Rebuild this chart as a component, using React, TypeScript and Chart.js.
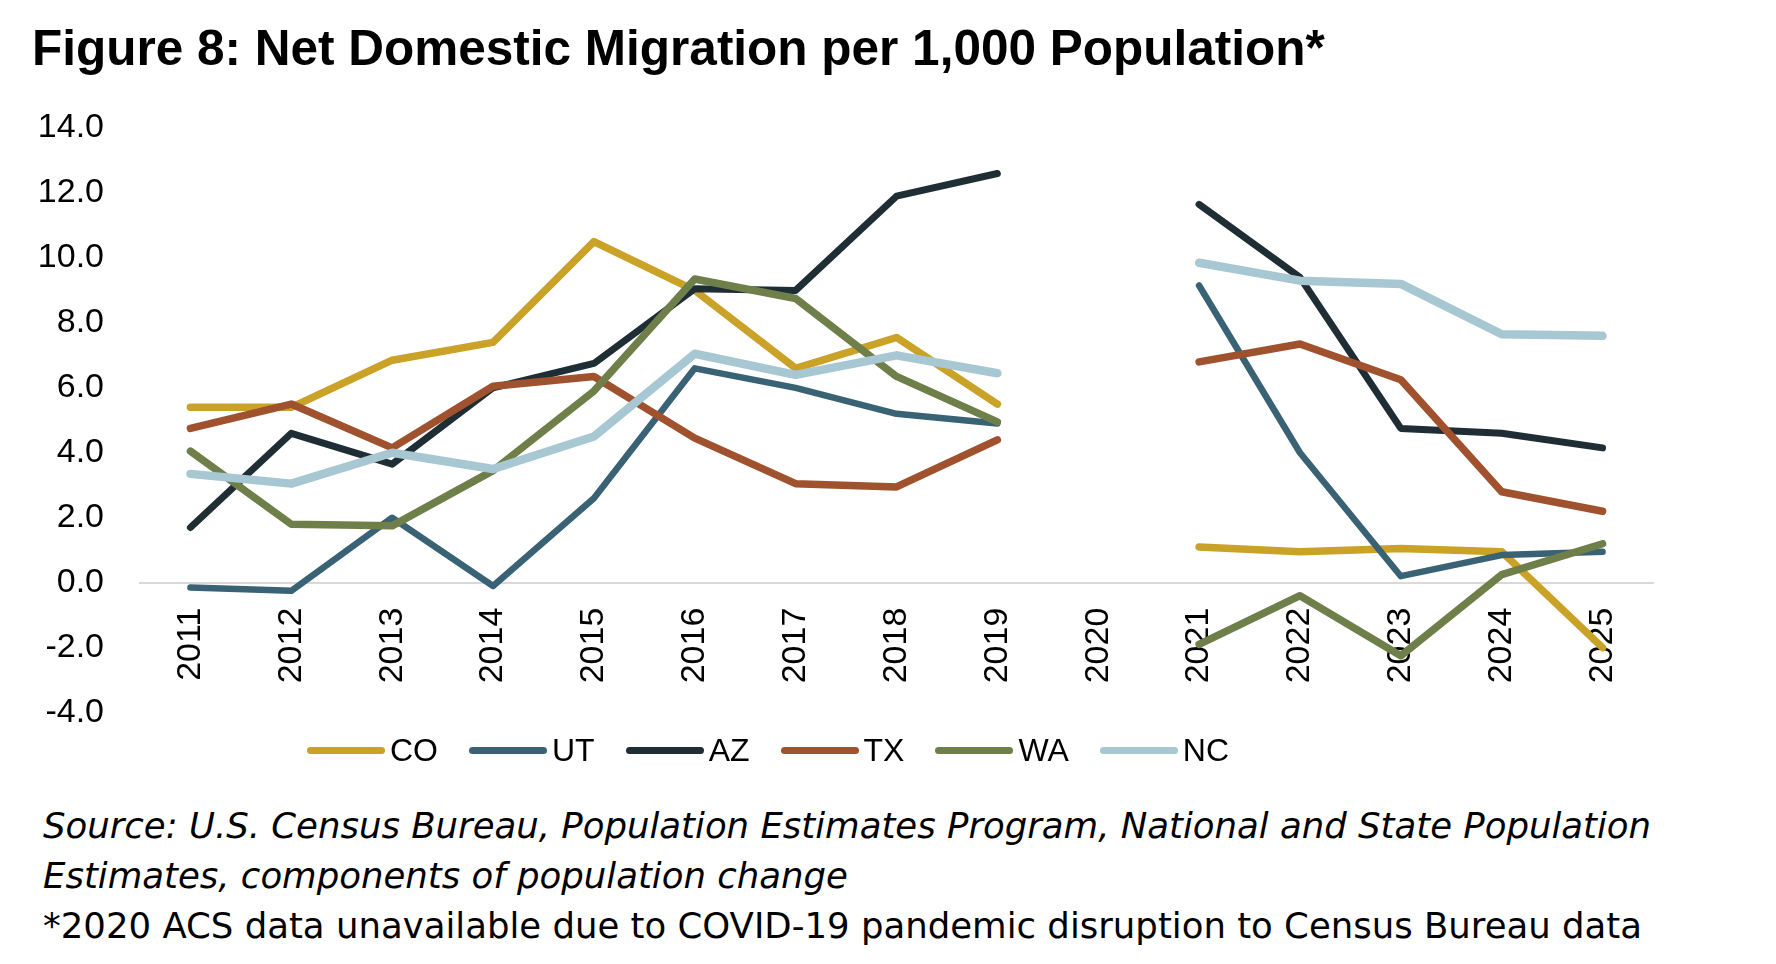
import { useEffect, useRef } from 'react';
import { Chart, registerables } from 'chart.js';

Chart.register(...registerables);

// 2020 has no data (gap in every series)
const YEARS = ['2011', '2012', '2013', '2014', '2015', '2016', '2017', '2018', '2019', '2020', '2021', '2022', '2023', '2024', '2025'];

const CO = [5.4, 5.4, 6.85, 7.4, 10.5, 9.0, 6.6, 7.55, 5.5, null, 1.1, 0.95, 1.05, 0.95, -2.0];
const UT = [-0.15, -0.25, 2.0, -0.1, 2.6, 6.6, 6.0, 5.2, 4.9, null, 9.15, 4.0, 0.2, 0.85, 0.95];
const AZ = [1.7, 4.6, 3.65, 6.0, 6.75, 9.05, 9.0, 11.9, 12.6, null, 11.65, 9.4, 4.75, 4.6, 4.15];
const TX = [4.75, 5.5, 4.15, 6.05, 6.35, 4.45, 3.05, 2.95, 4.4, null, 6.8, 7.35, 6.25, 2.8, 2.2];
const WA = [4.05, 1.8, 1.75, 3.45, 5.9, 9.35, 8.75, 6.35, 4.95, null, -1.9, -0.4, -2.25, 0.25, 1.2];
const NC = [3.35, 3.05, 4.0, 3.5, 4.5, 7.05, 6.4, 7.0, 6.45, null, 9.85, 9.3, 9.2, 7.65, 7.6];

const Y_MIN = -4;
const Y_MAX = 14;
const Y_STEP = 2;

const SERIES = [
    { label: 'CO', data: CO, color: '#C9A227', width: 7.5 },
    { label: 'UT', data: UT, color: '#3A6275', width: 6.5 },
    { label: 'AZ', data: AZ, color: '#1F2E34', width: 7 },
    { label: 'TX', data: TX, color: '#A0512D', width: 7.5 },
    { label: 'WA', data: WA, color: '#6E7F4A', width: 7.5 },
    { label: 'NC', data: NC, color: '#A7C7D3', width: 8.5 },
];

const TITLE = 'Figure 8: Net Domestic Migration per 1,000 Population*';
const SOURCE_1 = 'Source: U.S. Census Bureau, Population Estimates Program, National and State Population';
const SOURCE_2 = 'Estimates, components of population change';
const NOTE = '*2020 ACS data unavailable due to COVID-19 pandemic disruption to Census Bureau data';

const SANS = '"Liberation Sans", Arial, sans-serif';

export default function App() {
    const chartRef = useRef<HTMLCanvasElement>(null);
    const chartInstanceRef = useRef<Chart | null>(null);

    useEffect(() => {
        document.body.style.margin = '0';
        if (!chartRef.current) return;
        const ctx = chartRef.current.getContext('2d');
        if (!ctx) return;

        Chart.defaults.font.family = SANS;

        chartInstanceRef.current = new Chart(ctx, {
            type: 'line',
            data: {
                labels: YEARS,
                datasets: SERIES.map((s, i) => ({
                    label: s.label,
                    data: s.data,
                    borderColor: s.color,
                    backgroundColor: s.color,
                    borderWidth: s.width,
                    borderCapStyle: 'round',
                    borderJoinStyle: 'round',
                    pointRadius: 0,
                    tension: 0,
                    spanGaps: false,
                    // later series sit on top, like the original
                    order: SERIES.length - i,
                })),
            },
            options: {
                animation: false,
                responsive: true,
                maintainAspectRatio: false,
                layout: { padding: { top: 128, left: 38, right: 123, bottom: 21 } },
                plugins: {
                    legend: { display: false },
                    tooltip: { enabled: false },
                },
                scales: {
                    x: {
                        type: 'category',
                        offset: true,
                        position: { y: 0 },
                        grid: { display: false, drawTicks: false },
                        border: { display: true, color: '#D9D9D9', width: 2 },
                        ticks: {
                            autoSkip: false,
                            minRotation: 90,
                            maxRotation: 90,
                            padding: 25,
                            color: '#000',
                            font: { size: 34 },
                        },
                    },
                    y: {
                        min: Y_MIN,
                        max: Y_MAX,
                        grid: { display: false, drawTicks: false },
                        border: { display: false },
                        ticks: {
                            stepSize: Y_STEP,
                            padding: 36,
                            color: '#000',
                            font: { size: 34 },
                            callback: (v) => Number(v).toFixed(1),
                        },
                        afterFit: (scale) => {
                            scale.width = 102;
                        },
                    },
                },
            },
        });

        return () => {
            if (chartInstanceRef.current) {
                chartInstanceRef.current.destroy();
                chartInstanceRef.current = null;
            }
        };
    }, []);

    return (
        <div style={{ position: 'relative', width: 1776, height: 964, background: '#fff', fontFamily: SANS, color: '#000' }}>
            <div style={{ position: 'absolute', left: 32, top: 23, fontSize: 49.5, lineHeight: '49px', fontWeight: 700, whiteSpace: 'nowrap' }}>
                {TITLE}
            </div>
            <div style={{ position: 'absolute', left: 0, top: 0, width: 1776, height: 769 }}>
                <canvas ref={chartRef}></canvas>
            </div>
            <div style={{ position: 'absolute', left: 307, top: 730, height: 40, display: 'flex', alignItems: 'center' }}>
                {SERIES.map((s) => (
                    <div key={s.label} style={{ display: 'flex', alignItems: 'center', marginRight: 31 }}>
                        <span style={{ display: 'inline-block', width: 78, height: 7, borderRadius: 4, background: s.color, marginRight: 5 }}></span>
                        <span style={{ fontSize: 32, lineHeight: '40px' }}>{s.label}</span>
                    </div>
                ))}
            </div>
            <div style={{ position: 'absolute', left: 43, top: 801, fontFamily: '"DejaVu Sans", sans-serif', fontSize: 35.5, lineHeight: '50px', whiteSpace: 'nowrap' }}>
                <div style={{ fontStyle: 'italic' }}>{SOURCE_1}</div>
                <div style={{ fontStyle: 'italic' }}>{SOURCE_2}</div>
                <div>{NOTE}</div>
            </div>
        </div>
    );
}
